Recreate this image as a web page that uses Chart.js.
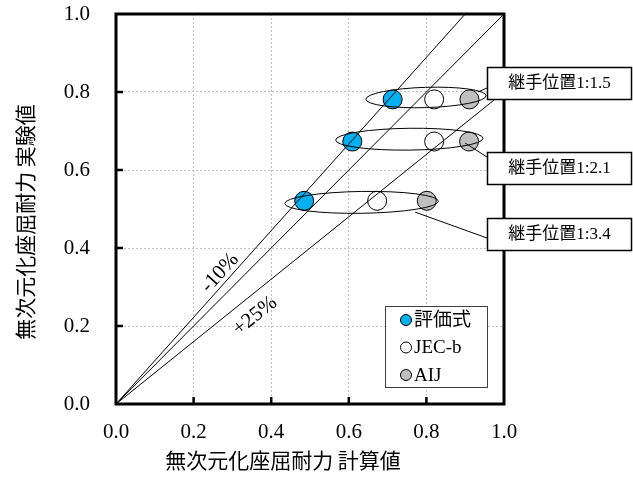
<!DOCTYPE html>
<html>
<head>
<meta charset="utf-8">
<script src="https://cdn.jsdelivr.net/npm/chart.js@4.4.1/dist/chart.umd.min.js"></script>
<style>
  body { margin: 0; background: #fff; }
  canvas { display: block; }
</style>
</head>
<body>
<canvas id="chart" width="633" height="479"></canvas>
<script>
// --- Data ---
const axisTicks = [0, 0.2, 0.4, 0.6, 0.8, 1.0];
const seriesNames = ['評価式', 'JEC-b', 'AIJ'];
const seriesColors = ['#00b0f0', '#ffffff', '#bfbfbf'];
const expValues = [0.521, 0.673, 0.781];      // 実験値
const hyokaValues = [0.485, 0.609, 0.713];    // 評価式 計算値
const jecValues = [0.673, 0.820, 0.820];      // JEC-b 計算値
const aijValues = [0.801, 0.910, 0.911];      // AIJ 計算値
const groupLabels = ['継手位置1:3.4', '継手位置1:2.1', '継手位置1:1.5'];

// reference lines
const minus10X = [0, 0.9], minus10Y = [0, 1.0];
const equalX = [0, 1.0], equalY = [0, 1.0];
const plus25X = [0, 1.0], plus25Y = [0, 0.8];

const serif = '"Liberation Serif", "Noto Sans CJK JP", serif';
const gothic = '"Noto Sans CJK JP", sans-serif';

function toPoints(xs, ys) {
    return xs.map((x, i) => ({ x: x, y: ys[i] }));
}

function guide(xs, ys) {
    return {
        type: 'line',
        data: toPoints(xs, ys),
        borderColor: '#000',
        borderWidth: 1,
        pointRadius: 0,
        showLine: true,
        order: 0
    };
}

function markers(i, xs) {
    return {
        type: 'scatter',
        label: seriesNames[i],
        data: toPoints(xs, expValues),
        backgroundColor: seriesColors[i],
        borderColor: '#000',
        borderWidth: 1,
        pointRadius: 9.5,
        order: 1
    };
}

// --- Annotation plugin (ellipses, callouts, legend, frame, titles) ---
const decor = {
    id: 'decor',
    afterDatasetsDraw(chart) {
        const { ctx, chartArea: a, scales: { x, y } } = chart;
        ctx.save();

        // ellipses around each group (data units)
        const ellipses = [
            { cx: 0.633, cy: 0.517, rx: 0.198, ry: 0.028, rot: -0.015 },
            { cx: 0.756, cy: 0.679, rx: 0.190, ry: 0.028, rot: -0.012 },
            { cx: 0.799, cy: 0.786, rx: 0.155, ry: 0.026, rot: -0.03 }
        ];
        ctx.strokeStyle = '#000';
        ctx.lineWidth = 1;
        ellipses.forEach(e => {
            const px = x.getPixelForValue(e.cx), py = y.getPixelForValue(e.cy);
            const rx = x.getPixelForValue(e.cx + e.rx) - px;
            const ry = py - y.getPixelForValue(e.cy + e.ry);
            ctx.beginPath();
            ctx.ellipse(px, py, rx, ry, e.rot, 0, Math.PI * 2);
            ctx.stroke();
        });

        // inward tick marks
        ctx.lineWidth = 2.5;
        axisTicks.slice(1, -1).forEach(v => {
            const px = x.getPixelForValue(v);
            ctx.beginPath();
            ctx.moveTo(px, a.bottom);
            ctx.lineTo(px, a.bottom - 7);
            ctx.stroke();
            const py = y.getPixelForValue(v);
            ctx.beginPath();
            ctx.moveTo(a.left, py);
            ctx.lineTo(a.left + 7, py);
            ctx.stroke();
        });

        // frame
        ctx.lineWidth = 3;
        ctx.strokeRect(a.left, a.top, a.right - a.left, a.bottom - a.top);

        // leader lines + callout boxes
        const leaders = [
            { sx: 0.771, sy: 0.492, ey: 238 },
            { sx: 0.900, sy: 0.669, ey: 157 },
            { sx: 0.933, sy: 0.800, ey: 88 }
        ];
        const boxTops = [218, 152, 67];
        const boxL = 487, boxW = 145, boxH = 32;
        ctx.lineWidth = 1;
        leaders.forEach(l => {
            ctx.beginPath();
            ctx.moveTo(x.getPixelForValue(l.sx), y.getPixelForValue(l.sy));
            ctx.lineTo(boxL, l.ey);
            ctx.stroke();
        });
        ctx.font = '17px ' + serif;
        ctx.textAlign = 'center';
        ctx.textBaseline = 'middle';
        groupLabels.forEach((t, i) => {
            ctx.fillStyle = '#fff';
            ctx.fillRect(boxL, boxTops[i], boxW, boxH);
            ctx.strokeStyle = '#000';
            ctx.lineWidth = 1.5;
            ctx.strokeRect(boxL + 0.5, boxTops[i] + 0.5, boxW - 1, boxH);
            ctx.fillStyle = '#000';
            ctx.fillText(t, boxL + boxW / 2, boxTops[i] + boxH / 2 + 1);
        });

        // legend
        ctx.fillStyle = '#fff';
        ctx.fillRect(385, 306, 103, 82);
        ctx.strokeStyle = '#404040';
        ctx.lineWidth = 1;
        ctx.strokeRect(385.5, 306.5, 102, 81);
        ctx.font = '19px ' + serif;
        ctx.textAlign = 'left';
        seriesNames.forEach((name, i) => {
            const cy = 320 + i * 27.5;
            ctx.beginPath();
            ctx.arc(406, cy, 5.5, 0, Math.PI * 2);
            ctx.fillStyle = seriesColors[i];
            ctx.fill();
            ctx.strokeStyle = '#000';
            ctx.stroke();
            ctx.fillStyle = '#000';
            ctx.fillText(name, 414, cy + 1);
        });

        // percentage labels along the lines
        ctx.font = '21px ' + serif;
        ctx.textAlign = 'center';
        [['-10%', 220, 273, -0.83], ['+25%', 255, 316, -0.68]].forEach(([t, px, py, r]) => {
            ctx.save();
            ctx.translate(px, py);
            ctx.rotate(r);
            ctx.fillText(t, 0, 0);
            ctx.restore();
        });

        // axis titles
        ctx.font = '21px ' + gothic;
        ctx.fillText('無次元化座屈耐力 計算値', 283, 460);
        ctx.save();
        ctx.translate(25, 222);
        ctx.rotate(-Math.PI / 2);
        ctx.fillText('無次元化座屈耐力 実験値', 0, 0);
        ctx.restore();

        ctx.restore();
    }
};

const axisCommon = {
    type: 'linear',
    min: 0,
    max: 1,
    afterBuildTicks: s => { s.ticks = axisTicks.map(v => ({ value: v })); },
    grid: { color: '#c0c0c0', lineWidth: 1, drawTicks: false },
    border: { display: false, dash: [2, 2] },
    ticks: {
        color: '#000',
        font: { family: serif, size: 21 },
        callback: v => v.toFixed(1)
    }
};

new Chart(document.getElementById('chart'), {
    type: 'scatter',
    data: {
        datasets: [
            guide(minus10X, minus10Y),
            guide(equalX, equalY),
            guide(plus25X, plus25Y),
            markers(0, hyokaValues),
            markers(1, jecValues),
            markers(2, aijValues)
        ]
    },
    options: {
        responsive: false,
        animation: false,
        layout: { padding: { left: 0, right: 129, top: 14, bottom: 0 } },
        plugins: { legend: { display: false }, tooltip: { enabled: false } },
        scales: {
            x: Object.assign({}, axisCommon, {
                ticks: Object.assign({}, axisCommon.ticks, { padding: 16, maxRotation: 0 }),
                afterFit: s => { s.height = 75; s.paddingLeft = 0; s.paddingRight = 0; }
            }),
            y: Object.assign({}, axisCommon, {
                ticks: Object.assign({}, axisCommon.ticks, { padding: 26 }),
                afterFit: s => { s.width = 116; s.paddingTop = 0; s.paddingBottom = 0; }
            })
        }
    },
    plugins: [decor]
});
</script>
</body>
</html>
